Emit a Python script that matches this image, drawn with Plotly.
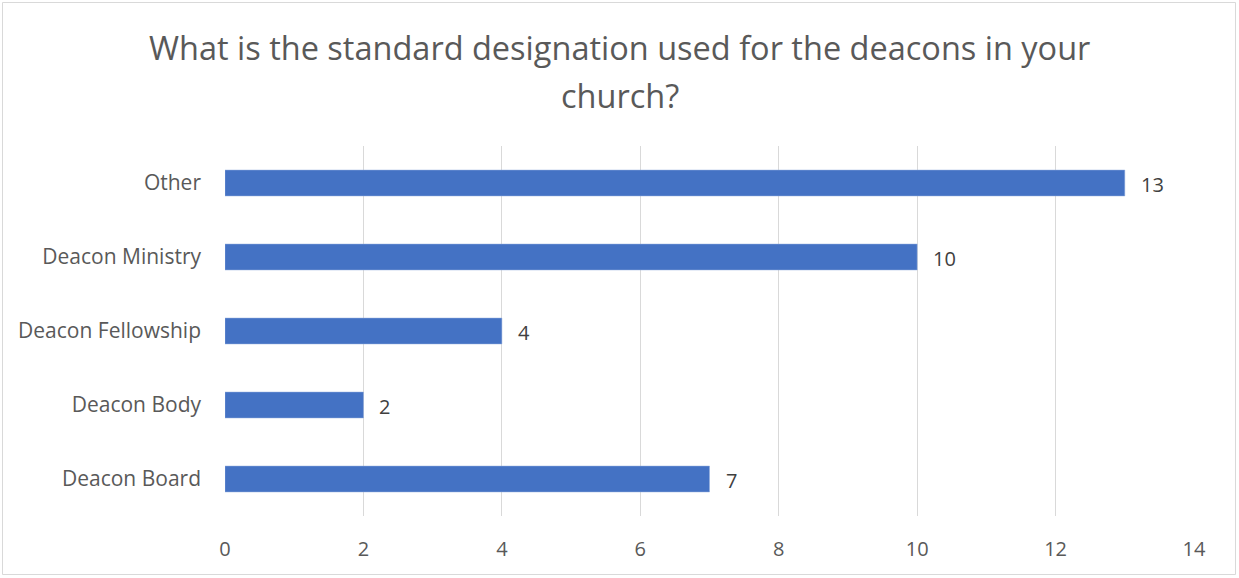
import plotly.graph_objects as go

categories = ["Deacon Board", "Deacon Body", "Deacon Fellowship", "Deacon Ministry", "Other"]
values = [7, 2, 4, 10, 13]
x_ticks = [0, 2, 4, 6, 8, 10, 12, 14]
title_lines = ["What is the standard designation used for the deacons in your", "church?"]

W, H = 1239, 578
L, R, T, B = 225, 45, 146, 62
pw, ph = W - L - R, H - T - B

FONT = "Open Sans"
BAR = "#4472C4"

fig = go.Figure(go.Bar(
    x=values, y=categories, orientation="h",
    marker=dict(color=BAR, line=dict(color="#8FAADC", width=0.5)),
    hoverinfo="skip",
))

annotations = []
for c, v in zip(categories, values):
    annotations.append(dict(x=v, y=c, xref="x", yref="y", text=str(v), showarrow=False,
                            xanchor="left", yanchor="middle", xshift=14, yshift=-1,
                            font=dict(family=FONT, size=20, color="#404040")))

def py(px):
    return (H - B - px) / ph

def pxp(px):
    return (px - L) / pw

for line, yc in zip(title_lines, [47, 95]):
    annotations.append(dict(x=pxp(619.5), xref="paper", y=py(yc), yref="paper", text=line,
                            showarrow=False, xanchor="center", yanchor="middle",
                            font=dict(family=FONT, size=32.5, color="#595959")))

fig.update_layout(
    width=W, height=H,
    margin=dict(l=L, r=R, t=T, b=B),
    paper_bgcolor="white", plot_bgcolor="white",
    showlegend=False,
    bargap=0.65,
    annotations=annotations,
    shapes=[dict(type="rect", xref="paper", yref="paper",
                 x0=pxp(2.5), x1=pxp(1235.5), y0=py(574.5), y1=py(2.5),
                 line=dict(color="#D9D9D9", width=1), fillcolor="rgba(0,0,0,0)", layer="below")],
    xaxis=dict(range=[0, 14], tickvals=x_ticks, showgrid=True, gridcolor="#D9D9D9", gridwidth=1,
               zeroline=False, showline=False, ticks="", ticklabelstandoff=19,
               tickfont=dict(family=FONT, size=20, color="#595959"), fixedrange=True),
    yaxis=dict(categoryorder="array", categoryarray=categories, showgrid=False, zeroline=False,
               showline=False, ticks="", ticklabelstandoff=23,
               tickfont=dict(family=FONT, size=21, color="#595959"), fixedrange=True),
)

fig.write_html("out.html", config={"displayModeBar": False},
               post_script="document.body.style.margin='0';document.body.style.padding='0';")
